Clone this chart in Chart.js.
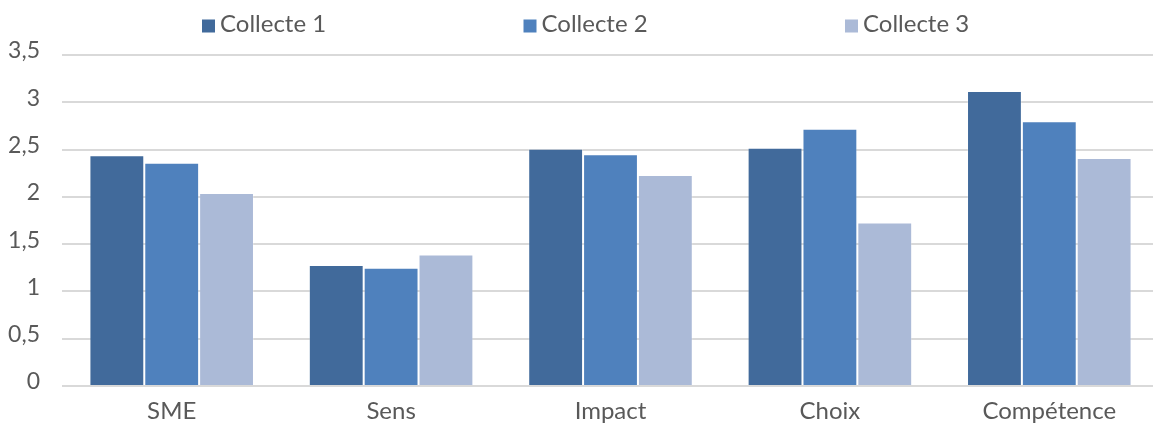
<!DOCTYPE html>
<html>
<head>
<meta charset="utf-8">
<script src="https://cdn.jsdelivr.net/npm/chart.js@4/dist/chart.umd.min.js"></script>
<style>
  html, body { margin: 0; padding: 0; background: #fff; overflow: hidden; }
  #wrap { position: relative; width: 1159px; height: 423px; }
</style>
</head>
<body>
<div id="wrap"><canvas id="chart"></canvas></div>
<script>
// Scores moyens par dimension et par collecte
const categories = ['SME', 'Sens', 'Impact', 'Choix', 'Compétence'];
const collecte1 = [2.44, 1.28, 2.51, 2.52, 3.12];
const collecte2 = [2.36, 1.25, 2.45, 2.72, 2.80];
const collecte3 = [2.04, 1.39, 2.23, 1.73, 2.41];
const seriesNames = ['Collecte 1', 'Collecte 2', 'Collecte 3'];
const seriesColors = ['#416a9b', '#4f81bd', '#abbad7'];

const FONT = 'Lato, "Open Sans", sans-serif';
const TEXT = '#595959';

// Légende à trois entrées espacées en haut du graphique
const spacedLegend = {
  id: 'spacedLegend',
  afterDraw(chart) {
    const ctx = chart.ctx;
    ctx.save();
    ctx.font = '24px ' + FONT;
    ctx.textBaseline = 'alphabetic';
    ctx.textAlign = 'left';
    chart.data.datasets.forEach((ds, i) => {
      const x = 202 + i * 321.5;
      ctx.fillStyle = ds.backgroundColor;
      ctx.fillRect(x, 19.5, 13, 13);
      ctx.fillStyle = TEXT;
      ctx.fillText(ds.label, x + 18, 31.5);
    });
    ctx.restore();
  }
};

const datasets = [collecte1, collecte2, collecte3].map((values, i) => ({
  label: seriesNames[i],
  data: values,
  backgroundColor: seriesColors[i],
  borderColor: 'rgba(255,255,255,0.22)',
  borderWidth: 1,
  categoryPercentage: 0.75,
  barPercentage: 1.0
}));

new Chart(document.getElementById('chart'), {
  type: 'bar',
  data: { labels: categories, datasets },
  plugins: [spacedLegend],
  options: {
    responsive: true,
    maintainAspectRatio: false,
    animation: false,
    layout: { padding: { top: 55, right: 0, bottom: 0, left: 0 } },
    plugins: {
      legend: { display: false },
      tooltip: { enabled: false }
    },
    scales: {
      x: {
        grid: { display: false },
        border: { display: false },
        ticks: {
          color: TEXT,
          font: { family: FONT, size: 24 },
          padding: 3
        },
        afterFit(scale) { scale.height = 37; }
      },
      y: {
        min: 0,
        max: 3.5,
        ticks: {
          stepSize: 0.5,
          color: TEXT,
          font: { family: FONT, size: 23 },
          padding: 22,
          labelOffset: -4,
          callback: (v) => v.toLocaleString('fr-FR')
        },
        grid: { color: '#d9d9d9', lineWidth: 2, drawTicks: false },
        border: { display: false },
        afterFit(scale) { scale.width = 62; }
      }
    }
  }
});
</script>
</body>
</html>
